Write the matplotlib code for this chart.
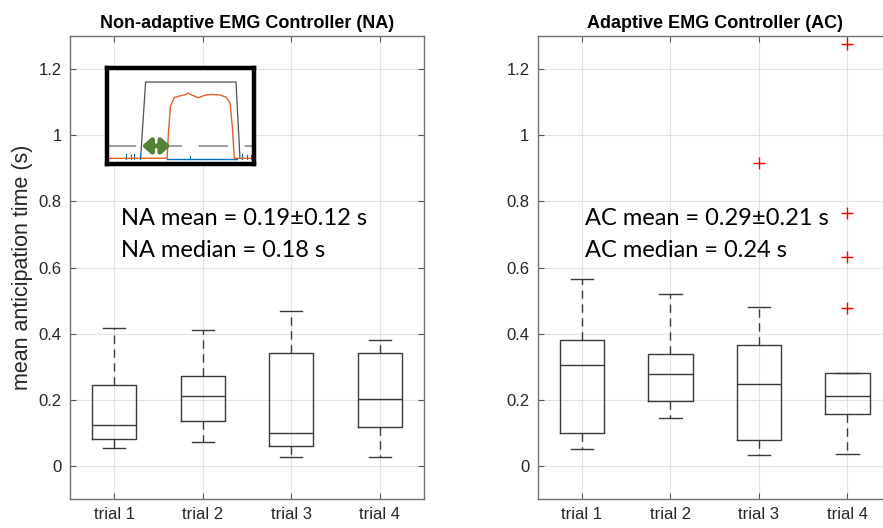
#!/usr/bin/env python

import numpy as np
import matplotlib
matplotlib.use('Agg')
import matplotlib.pyplot as plt

# box statistics: whislo, q1, med, q3, whishi
trials = ['trial 1', 'trial 2', 'trial 3', 'trial 4']
na_whislo = [0.054, 0.072, 0.028, 0.028]
na_q1 = [0.081, 0.135, 0.060, 0.118]
na_med = [0.124, 0.210, 0.101, 0.202]
na_q3 = [0.245, 0.271, 0.341, 0.341]
na_whishi = [0.417, 0.412, 0.468, 0.382]
na_fliers = [[], [], [], []]

ac_whislo = [0.052, 0.144, 0.032, 0.036]
ac_q1 = [0.099, 0.197, 0.077, 0.158]
ac_med = [0.305, 0.277, 0.248, 0.211]
ac_q3 = [0.380, 0.338, 0.367, 0.281]
ac_whishi = [0.565, 0.519, 0.482, 0.281]
ac_fliers = [[], [], [0.916], [0.477, 0.633, 0.765, 1.275]]

yticks = [0, 0.2, 0.4, 0.6, 0.8, 1.0, 1.2]
ytick_labels = ['0', '0.2', '0.4', '0.6', '0.8', '1', '1.2']

# inset illustration (sketch of EMG signal), in inset pixel units
trap_x = [120, 135, 408, 420]
trap_y = [295, 67, 67, 295]
emg_x = [18, 200, 204, 210, 222, 240, 258, 262, 280, 295, 315, 335, 360, 378, 390, 397, 403, 462]
emg_y = [295, 295, 220, 140, 113, 108, 104, 100, 108, 114, 106, 104, 106, 112, 130, 200, 295, 295]
blue_x = [200, 410]
blue_y = [297, 297]
spike_x = [75, 90, 100, 118, 268, 425, 440, 452]
spike_top = [283, 285, 282, 283, 287, 283, 285, 284]
thresh_y = 258
arrow_x = [124, 210]

fig = plt.figure(figsize=(8.83, 5.28), dpi=100)
ax1 = fig.add_axes([0.0793, 0.0549, 0.4009, 0.8769])
ax2 = fig.add_axes([0.609, 0.0549, 0.4009, 0.8769])

box_col = '#3a3a3a'
tick_font = {'family': 'Liberation Sans', 'size': 12, 'color': '#262626'}

def make_stats(lo, q1, med, q3, hi, fl):
    return [dict(whislo=lo[i], q1=q1[i], med=med[i], q3=q3[i], whishi=hi[i],
                 fliers=fl[i]) for i in range(len(med))]

def draw(ax, stats, title):
    ax.bxp(stats, positions=range(1, 5), widths=0.5, showfliers=True,
           boxprops=dict(color=box_col, lw=1),
           medianprops=dict(color=box_col, lw=1),
           whiskerprops=dict(color=box_col, lw=1, linestyle=(0, (6, 4))),
           capprops=dict(color=box_col, lw=1),
           flierprops=dict(marker='+', markeredgecolor='red', markersize=8,
                           linestyle='none'))
    ax.set_xlim(0.5, 4.5)
    ax.set_ylim(-0.1, 1.3)
    ax.set_yticks(yticks)
    ax.set_yticklabels(ytick_labels, fontdict=tick_font)
    ax.set_xticks(range(1, 5))
    ax.set_xticklabels(trials, fontdict=tick_font)
    ax.grid(True, color='#e3e3e3', lw=0.8)
    ax.set_axisbelow(True)
    ax.tick_params(direction='in', length=4, top=True, right=True,
                   color='#555555', pad=6)
    for s in ax.spines.values():
        s.set_color('#707070')
        s.set_linewidth(1)
    ax.set_title(title, fontsize=13, fontweight='bold', family='Liberation Sans',
                 pad=6)

draw(ax1, make_stats(na_whislo, na_q1, na_med, na_q3, na_whishi, na_fliers),
     'Non-adaptive EMG Controller (NA)')
draw(ax2, make_stats(ac_whislo, ac_q1, ac_med, ac_q3, ac_whishi, ac_fliers),
     'Adaptive EMG Controller (AC)')

ax1.set_ylabel('mean anticipation time (s)', fontsize=15.5, family='Liberation Sans',
               color='#262626', labelpad=4)

txt = dict(fontsize=17, family='Lato', color='black')
ax1.text(1.073, 0.728, 'NA mean = 0.19\u00b10.12 s', **txt)
ax1.text(1.073, 0.631, 'NA median = 0.18 s', **txt)
ax2.text(1.034, 0.728, 'AC mean = 0.29\u00b10.21 s', **txt)
ax2.text(1.034, 0.631, 'AC median = 0.24 s', **txt)

# inset
ins = fig.add_axes([0.121, 0.6894, 0.1665, 0.1818])
ins.set_xlim(18, 462)
ins.set_ylim(312, 25)
ins.set_xticks([])
ins.set_yticks([])
for s in ins.spines.values():
    s.set_linewidth(3.2)
    s.set_color('black')
ins.plot([18, 462], [thresh_y, thresh_y], color='#a0a0a0', lw=1.5,
         linestyle=(0, (14, 8)))
ins.plot(trap_x, trap_y, color='#505050', lw=0.9)
ins.plot(blue_x, blue_y, color='#0072BD', lw=1)
for x, t in zip(spike_x, spike_top):
    ins.plot([x, x], [297, t], color='#0072BD', lw=0.8)
ins.plot(emg_x, emg_y, color='#E0622A', lw=1)
ins.annotate('', xy=(arrow_x[0], thresh_y), xytext=(arrow_x[1], thresh_y),
             arrowprops=dict(arrowstyle='<|-|>,head_width=0.45,head_length=0.5',
                             lw=3.5, color='#548235', shrinkA=0, shrinkB=0))

fig.savefig('out.png', dpi=100)
